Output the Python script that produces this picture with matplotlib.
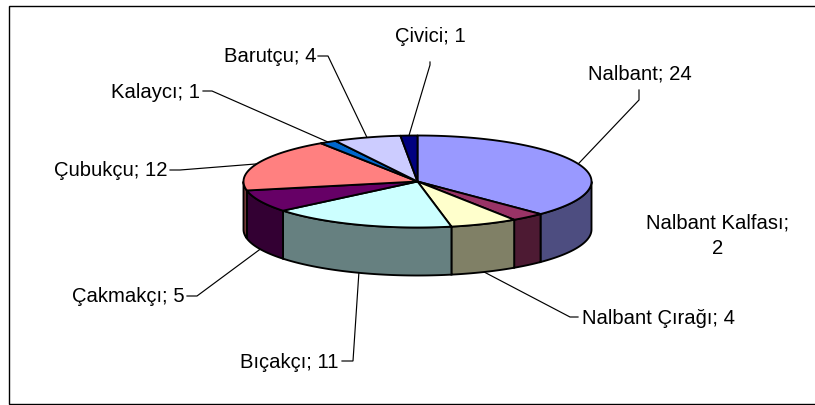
import numpy as np
import matplotlib
matplotlib.use("Agg")
import matplotlib.pyplot as plt
from matplotlib.patches import Polygon

categories = ["Nalbant", "Nalbant Kalfası", "Nalbant Çırağı", "Bıçakçı", "Çakmakçı",
              "Çubukçu", "Kalaycı", "Barutçu", "Çivici"]
values = [24, 2, 4, 11, 5, 12, 1, 4, 1]
top_colors = ["#9999FF", "#993366", "#FFFFCC", "#CCFFFF", "#660066",
              "#FF8080", "#0066CC", "#CCCCFF", "#000080"]
side_colors = ["#4D4D80", "#4D1A33", "#808066", "#668080", "#330033",
               "#804040", "#003366", "#666680", "#000040"]

# pie geometry in pixels
CX, CY, RX, RY, DEPTH = 417.5, 181.5, 174.0, 46.0, 48.0
# text placement: x, y, ha ; leader elbow points, from the label towards the slice
layout = [
    (640, 74, "center", [(639, 90), (639, 100)]),
    (718, 235.5, "center", None),
    (582, 318, "left", [(578, 317), (570, 317)]),
    (339, 362, "right", [(342, 361), (353, 361)]),
    (185, 297, "right", [(187, 296), (197, 296)]),
    (168, 171, "right", [(170, 170), (180, 170)]),
    (200, 92, "right", [(203, 91), (212, 91)]),
    (316, 57, "right", [(318, 56), (328, 56)]),
    (430, 36, "center", [(430, 62), (430, 65)]),
]

plt.rcParams["font.family"] = ["Liberation Sans", "DejaVu Sans"]
fig = plt.figure(figsize=(8.15, 4.05), dpi=100, facecolor="white")
ax = fig.add_axes([0, 0, 1, 1])
ax.set_xlim(0, 815)
ax.set_ylim(405, 0)
ax.axis("off")


def edge(theta, dy=0.0):
    """Point on the rim; theta in degrees, clockwise from 12 o'clock."""
    t = np.radians(theta)
    return np.column_stack([CX + RX * np.sin(t), CY - RY * np.cos(t) + dy])


LW = 1.35
vals = np.array(values, dtype=float)
bounds = np.concatenate([[0], np.cumsum(vals)]) / vals.sum() * 360.0

# side walls (only the front half, 90..270 degrees, is visible)
for i in range(len(vals)):
    a, b = max(bounds[i], 90.0), min(bounds[i + 1], 270.0)
    if b <= a:
        continue
    th = np.linspace(a, b, 80)
    pts = np.vstack([edge(th), edge(th[::-1], DEPTH)])
    ax.add_patch(Polygon(pts, closed=True, fc=side_colors[i], ec="black", lw=LW, zorder=2))

# top faces
for i in range(len(vals)):
    th = np.linspace(bounds[i], bounds[i + 1], 120)
    pts = np.vstack([[CX, CY], edge(th)])
    ax.add_patch(Polygon(pts, closed=True, fc=top_colors[i], ec="black", lw=LW, zorder=3,
                         joinstyle="round"))

# labels and leaders
for i, (name, val, (x, y, ha, elbow)) in enumerate(zip(categories, values, layout)):
    label = f"{name}; {val}"
    if name == "Nalbant Kalfası":
        label = f"{name};\n{val}"
    ax.text(x, y, label, fontsize=14.6, ha=ha, va="center", color="black",
            multialignment="center", linespacing=1.45, zorder=5)
    if elbow is not None:
        mid = (bounds[i] + bounds[i + 1]) / 2
        front = 90 < mid < 270
        anchor = edge(np.array([mid]), DEPTH if front else 0.0)[0]
        px = [p[0] for p in elbow] + [anchor[0]]
        py = [p[1] for p in elbow] + [anchor[1]]
        ax.plot(px, py, color="black", lw=0.85, zorder=1, solid_joinstyle="miter")

# chart frame (the right side is cut off by the picture edge)
ax.plot([815, 8.5, 8.5, 815], [5.5, 5.5, 404, 404], color="black", lw=1.0,
        solid_joinstyle="miter", clip_on=False, zorder=6)

fig.savefig("out.png", dpi=100, facecolor="white")
